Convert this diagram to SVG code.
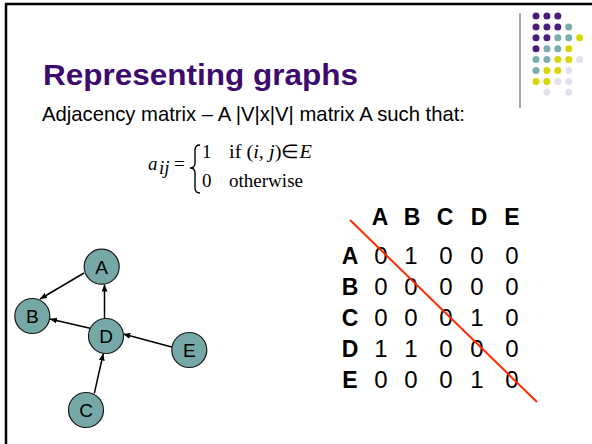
<svg xmlns="http://www.w3.org/2000/svg" width="592" height="444" viewBox="0 0 592 444">
<defs>
<marker id="arr" markerWidth="8" markerHeight="6" refX="7" refY="3" orient="auto" markerUnits="userSpaceOnUse">
<path d="M0,0 L7,3 L0,6 Z" fill="#000"/>
</marker>
</defs>
<style>
.pu{fill:#4B1C7D}.te{fill:#7AADAD}.ye{fill:#D7D600}.la{fill:#E2E0EE}
.node circle{fill:#75A8A6;stroke:#1a1a1a;stroke-width:1.2}
.node text{font-family:"Liberation Sans",Arial,sans-serif;font-size:19px;text-anchor:middle;fill:#000}
.edge{stroke:#000;stroke-width:1.5;fill:none;marker-end:url(#arr)}
.hd{font-family:"Liberation Sans",Arial,sans-serif;font-size:23px;font-weight:bold;text-anchor:middle}
.v{font-family:"Liberation Sans",Arial,sans-serif;font-size:24px;text-anchor:middle}
.tm{font-family:"Liberation Serif","Times New Roman",serif;font-size:19px}
</style>
<rect width="592" height="444" fill="#fff"/>
<line x1="5" y1="4" x2="592" y2="4" stroke="#000" stroke-width="2.5"/>
<line x1="6" y1="3" x2="6" y2="444" stroke="#000" stroke-width="2.5"/>
<line x1="520" y1="13" x2="520" y2="108" stroke="#8a8a8a" stroke-width="1.5"/>
<g id="dots">
<circle class="pu" cx="536" cy="16" r="3.5"/><circle class="pu" cx="546.9" cy="16" r="3.5"/><circle class="pu" cx="557.8" cy="16" r="3.5"/>
<circle class="pu" cx="536" cy="26.9" r="3.5"/><circle class="pu" cx="546.9" cy="26.9" r="3.5"/><circle class="pu" cx="557.8" cy="26.9" r="3.5"/><circle class="te" cx="568.7" cy="26.9" r="3.5"/>
<circle class="pu" cx="536" cy="37.8" r="3.5"/><circle class="pu" cx="546.9" cy="37.8" r="3.5"/><circle class="te" cx="557.8" cy="37.8" r="3.5"/><circle class="te" cx="568.7" cy="37.8" r="3.5"/><circle class="ye" cx="579.6" cy="37.8" r="3.5"/>
<circle class="pu" cx="536" cy="48.7" r="3.5"/><circle class="te" cx="546.9" cy="48.7" r="3.5"/><circle class="te" cx="557.8" cy="48.7" r="3.5"/><circle class="ye" cx="568.7" cy="48.7" r="3.5"/>
<circle class="te" cx="536" cy="59.6" r="3.5"/><circle class="te" cx="546.9" cy="59.6" r="3.5"/><circle class="ye" cx="557.8" cy="59.6" r="3.5"/><circle class="ye" cx="568.7" cy="59.6" r="3.5"/><circle class="la" cx="579.6" cy="59.6" r="3.5"/>
<circle class="te" cx="536" cy="70.5" r="3.5"/><circle class="ye" cx="546.9" cy="70.5" r="3.5"/><circle class="ye" cx="557.8" cy="70.5" r="3.5"/><circle class="la" cx="568.7" cy="70.5" r="3.5"/>
<circle class="ye" cx="536" cy="81.4" r="3.5"/><circle class="ye" cx="546.9" cy="81.4" r="3.5"/><circle class="la" cx="557.8" cy="81.4" r="3.5"/><circle class="la" cx="568.7" cy="81.4" r="3.5"/>
<circle class="la" cx="546.9" cy="92.3" r="3.5"/><circle class="la" cx="568.7" cy="92.3" r="3.5"/>
</g>
<text x="43" y="85" font-family="'Liberation Sans',Arial,sans-serif" font-size="29" font-weight="bold" fill="#3D0B6E" textLength="315" lengthAdjust="spacingAndGlyphs">Representing graphs</text>
<text x="42" y="121" font-family="'Liberation Sans',Arial,sans-serif" font-size="21" fill="#000" textLength="423" lengthAdjust="spacingAndGlyphs">Adjacency matrix – A |V|x|V| matrix A such that:</text>
<g id="formula">
<text class="tm" x="148" y="170" font-size="21" font-style="italic">a</text>
<text class="tm" x="159" y="174" font-size="12" font-style="italic">ij</text>
<text class="tm" x="174" y="170">=</text>
<path d="M200,145 Q195,145 195,150 L195,163 Q195,168 190,168 Q195,168 195,173 L195,188 Q195,193 200,193" fill="none" stroke="#000" stroke-width="1.4"/>
<text class="tm" x="202" y="158">1</text>
<text class="tm" x="229" y="158" textLength="83" lengthAdjust="spacingAndGlyphs">if (<tspan font-style="italic">i</tspan>, <tspan font-style="italic">j</tspan>)∈<tspan font-style="italic">E</tspan></text>
<text class="tm" x="202" y="187">0</text>
<text class="tm" x="229" y="187" textLength="74" lengthAdjust="spacingAndGlyphs">otherwise</text>
</g>
<g id="connectors">
<line class="edge" x1="84" y1="273" x2="40" y2="299"/>
<line class="edge" x1="104.5" y1="318" x2="104.5" y2="284.5"/>
<line class="edge" x1="90" y1="328.3" x2="50" y2="319"/>
<line class="edge" x1="172.7" y1="347.3" x2="123.3" y2="334"/>
<line class="edge" x1="94.3" y1="393.3" x2="103.3" y2="353.5"/>
</g>
<g id="node-A" class="node"><circle cx="101.7" cy="266.7" r="17.5"/><text x="101.7" y="273.5">A</text></g>
<g id="node-B" class="node"><circle cx="32.3" cy="316" r="17.5"/><text x="32.3" y="322.8">B</text></g>
<g id="node-D" class="node"><circle cx="106" cy="336" r="17.5"/><text x="106" y="342.8">D</text></g>
<g id="node-E" class="node"><circle cx="189.3" cy="350" r="17.5"/><text x="189.3" y="356.8">E</text></g>
<g id="node-C" class="node"><circle cx="86" cy="410" r="17.5"/><text x="86" y="416.8">C</text></g>
<g id="matrix">
<text class="hd" x="380" y="225">A</text><text class="hd" x="412" y="225">B</text><text class="hd" x="445" y="225">C</text><text class="hd" x="479" y="225">D</text><text class="hd" x="512" y="225">E</text>
<text class="hd" x="350" y="264">A</text><text class="hd" x="350" y="295">B</text><text class="hd" x="350" y="326">C</text><text class="hd" x="350" y="357">D</text><text class="hd" x="350" y="388">E</text>
<text class="v" x="381" y="264">0</text><text class="v" x="411" y="264">1</text><text class="v" x="446" y="264">0</text><text class="v" x="477" y="264">0</text><text class="v" x="512" y="264">0</text>
<text class="v" x="381" y="295">0</text><text class="v" x="411" y="295">0</text><text class="v" x="446" y="295">0</text><text class="v" x="477" y="295">0</text><text class="v" x="512" y="295">0</text>
<text class="v" x="381" y="326">0</text><text class="v" x="411" y="326">0</text><text class="v" x="446" y="326">0</text><text class="v" x="477" y="326">1</text><text class="v" x="512" y="326">0</text>
<text class="v" x="381" y="357">1</text><text class="v" x="411" y="357">1</text><text class="v" x="446" y="357">0</text><text class="v" x="477" y="357">0</text><text class="v" x="512" y="357">0</text>
<text class="v" x="381" y="388">0</text><text class="v" x="411" y="388">0</text><text class="v" x="446" y="388">0</text><text class="v" x="477" y="388">1</text><text class="v" x="512" y="388">0</text>
<line x1="350" y1="220" x2="537" y2="402" stroke="#FF2A00" stroke-width="2"/>
</g>
</svg>
